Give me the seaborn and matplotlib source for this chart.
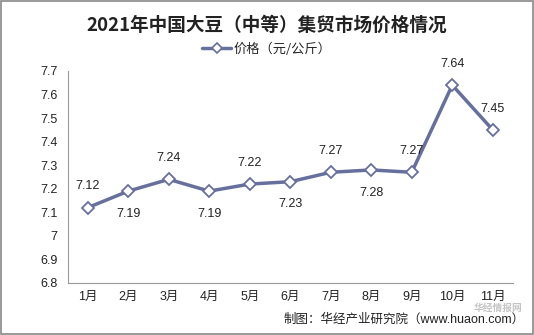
import matplotlib
matplotlib.use("Agg")
import matplotlib.pyplot as plt
from matplotlib.patches import Rectangle
import seaborn as sns
import pandas as pd
import numpy as np

months = ["1月", "2月", "3月", "4月", "5月", "6月", "7月", "8月", "9月", "10月", "11月"]
prices = [7.12, 7.19, 7.24, 7.19, 7.22, 7.23, 7.27, 7.28, 7.27, 7.64, 7.45]
label_above = [True, False, True, False, True, False, True, False, True, True, True]
y_ticks = [6.8, 6.9, 7.0, 7.1, 7.2, 7.3, 7.4, 7.5, 7.6, 7.7]
y_tick_labels = ["6.8", "6.9", "7", "7.1", "7.2", "7.3", "7.4", "7.5", "7.6", "7.7"]

sns.set_style("white")
plt.rcParams["font.family"] = ["Liberation Sans", "Noto Sans CJK SC", "DejaVu Sans"]

line_color = "#67709c"
df = pd.DataFrame({"month": months, "price": prices, "x": np.arange(len(months))})

fig = plt.figure(figsize=(5.34, 3.35), dpi=100)
ax = fig.add_axes([67.5 / 534, 1 - 283 / 335, 445.5 / 534, 212 / 335])

sns.lineplot(data=df, x="x", y="price", ax=ax, color=line_color, linewidth=2.5,
             marker="D", markersize=6.5, markerfacecolor="white",
             markeredgecolor=line_color, markeredgewidth=1.3, label="价格（元/公斤）",
             legend=False)

for xi, v, up in zip(df["x"], prices, label_above):
    ax.annotate(f"{v:.2f}", (xi, v), xytext=(0, 11 if up else -12),
                textcoords="offset points", ha="center",
                va="bottom" if up else "top", fontsize=9, color="#222222")

ax.set_xlim(-0.5, len(months) - 0.5)
ax.set_ylim(6.8, 7.7)
ax.set_yticks(y_ticks)
ax.set_yticklabels(y_tick_labels)
ax.set_xticks(df["x"])
ax.set_xticklabels(months)
ax.set_xticks(np.arange(-0.5, len(months)), minor=True)
ax.tick_params(axis="x", which="major", length=0, labelsize=9, pad=6, colors="#222222")
ax.tick_params(axis="x", which="minor", length=4, width=0.8, color="#999999", direction="out")
ax.tick_params(axis="y", length=4, width=0.8, color="#999999", direction="out",
               labelsize=9, colors="#222222", pad=3)
ax.set_xlabel("")
ax.set_ylabel("")
for side in ["top", "right"]:
    ax.spines[side].set_visible(False)
for side in ["left", "bottom"]:
    ax.spines[side].set_color("#999999")
    ax.spines[side].set_linewidth(0.8)

fig.text(0.5, 1 - 25 / 335, "2021年中国大豆（中等）集贸市场价格情况", ha="center", va="center",
         fontsize=13.4, fontweight="bold", color="#222222",
         family=["Noto Sans CJK SC", "DejaVu Sans"])

handles = [plt.Line2D([], [], color=line_color, linewidth=2.5, marker="D", markersize=5.5,
                      markerfacecolor="white", markeredgecolor=line_color, markeredgewidth=1.2)]
fig.legend(handles, ["价格（元/公斤）"], loc="center", bbox_to_anchor=(0.5, 1 - 49 / 335),
           frameon=False, handlelength=2.2, handletextpad=0.2,
           prop={"family": ["Noto Sans CJK SC", "DejaVu Sans"], "size": 9.5})

# site watermark
fig.text(522 / 534, 1 - 307.5 / 335, "华经情报网", ha="right", va="center", fontsize=7,
         fontweight="bold", color="#c4c4c4",
         family=["Noto Sans CJK SC", "DejaVu Sans"])

fig.text(525 / 534, 1 - 320 / 335, "制图：华经产业研究院（www.huaon.com）", ha="right",
         va="center", fontsize=9, color="#222222")

fig.patches.append(Rectangle((0.001, 0.002), 0.997, 0.995, transform=fig.transFigure,
                             fill=False, edgecolor="#888888", linewidth=1.2))

fig.savefig("out.png", dpi=100)
